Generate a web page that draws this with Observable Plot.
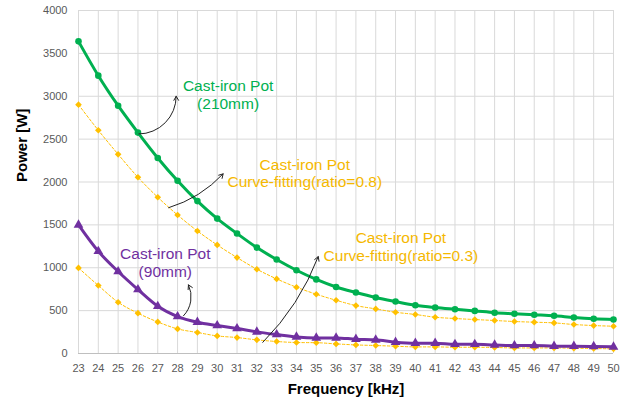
<!DOCTYPE html>
<html><head><meta charset="utf-8">
<script src="https://cdn.jsdelivr.net/npm/d3@7"></script>
<script src="https://cdn.jsdelivr.net/npm/@observablehq/plot@0.6"></script>
<style>
body{margin:0;background:#fff;}
#chart{width:629px;height:402px;}
</style>
</head><body><div id="chart"></div>
<script>
const freq = [23,24,25,26,27,28,29,30,31,32,33,34,35,36,37,38,39,40,41,42,43,44,45,46,47,48,49,50];
const pot210 = [3640,3240,2890,2576,2280,2014,1777,1573,1399,1235,1096,971,864,776,711,653,606,563,536,516,497,476,464,452,440,420,405,396];
const fit08 = [2902,2603,2323,2055,1822,1615,1429,1266,1119,983,870,773,691,621,559,520,481,455,423,408,396,385,373,365,357,338,326,318];
const pot90 = [1500,1192,956,746,551,431,365,326,291,252,221,193,182,182,167,159,132,120,120,108,108,100,93,93,85,85,82,77];
const fit03 = [998,793,598,470,368,287,245,205,186,159,140,128,126,112,100,93,85,77,77,73,73,70,65,65,65,62,58,54];
const yTicks = [0,500,1000,1500,2000,2500,3000,3500,4000];

const GREEN = "#00b050", PURPLE = "#7030a0", GOLD = "#ffc000", GOLDTXT = "#f5b800";

const rows = (ys) => freq.map((f, i) => ({f, v: ys[i]}));
const d210 = rows(pot210), d08 = rows(fit08), d90 = rows(pot90), d03 = rows(fit03);

// annotations (data units)
const labels = [
  {x: 30.55, y: 3020, text: "Cast-iron Pot\n(210mm)", color: GREEN},
  {x: 34.42, y: 2107, text: "Cast-iron Pot\nCurve-fitting(ratio=0.8)", color: GOLDTXT},
  {x: 27.38, y: 1064, text: "Cast-iron Pot\n(90mm)", color: PURPLE},
  {x: 39.27, y: 1250, text: "Cast-iron Pot\nCurve-fitting(ratio=0.3)", color: GOLDTXT}
];
const arrow210 = [{x1: 26.05, y1: 2560, x2: 27.93, y2: 3000}];
const arrow08 = [{x1: 27.55, y1: 1700, x2: 30.3, y2: 2095}];
const arrow90 = [{x1: 28.3, y1: 440, x2: 28.55, y2: 800}];
const arrow03 = [{x1: 32.3, y1: 130, x2: 35.1, y2: 1130}];

const font = "Liberation Sans, Arial, sans-serif";
const arrowOpts = (bend) => ({x1: "x1", y1: "y1", x2: "x2", y2: "y2", bend, stroke: "#222", strokeWidth: 1, headLength: 7});

const chart = Plot.plot({
  width: 629,
  height: 402,
  marginLeft: 78,
  marginRight: 16,
  marginTop: 10,
  marginBottom: 49,
  style: {fontFamily: font, background: "#fff"},
  x: {domain: [23, 50], ticks: freq, tickFormat: d => String(d), label: null},
  y: {domain: [0, 4000], ticks: yTicks, tickFormat: d => String(d), label: null},
  marks: [
    Plot.gridX(freq, {stroke: "#d9d9d9", strokeOpacity: 1, strokeWidth: 1}),
    Plot.gridY(yTicks, {stroke: "#d9d9d9", strokeOpacity: 1, strokeWidth: 1}),
    Plot.ruleY([0], {stroke: "#bfbfbf", strokeWidth: 1}),
    Plot.axisX(freq, {tickSize: 0, tickPadding: 11, fontSize: 11, fill: "#595959", label: null, tickFormat: d => String(d)}),
    Plot.axisY(yTicks, {tickSize: 0, tickPadding: 11, fontSize: 11, fill: "#595959", label: null, tickFormat: d => String(d)}),
    // curve-fitting (dashed, gold)
    Plot.line(d08, {x: "f", y: "v", stroke: GOLD, strokeWidth: 1, strokeDasharray: "2.5,2", curve: "monotone-x"}),
    Plot.line(d03, {x: "f", y: "v", stroke: GOLD, strokeWidth: 1, strokeDasharray: "2.5,2", curve: "monotone-x"}),
    // measured
    Plot.line(d210, {x: "f", y: "v", stroke: GREEN, strokeWidth: 3, curve: "monotone-x"}),
    Plot.line(d90, {x: "f", y: "v", stroke: PURPLE, strokeWidth: 3, curve: "monotone-x"}),
    Plot.dot(d08, {x: "f", y: "v", symbol: "diamond2", r: 3, fill: GOLD, stroke: "none"}),
    Plot.dot(d03, {x: "f", y: "v", symbol: "diamond2", r: 3, fill: GOLD, stroke: "none"}),
    Plot.dot(d210, {x: "f", y: "v", symbol: "circle", r: 3.3, fill: GREEN, stroke: "none"}),
    Plot.dot(d90, {x: "f", y: "v", symbol: "triangle", r: 3.6, fill: PURPLE, stroke: "none"}),
    // annotations
    Plot.arrow(arrow210, arrowOpts(-45)),
    Plot.arrow(arrow08, arrowOpts(-15)),
    Plot.arrow(arrow90, arrowOpts(-35)),
    Plot.arrow(arrow03, arrowOpts(-12)),
    Plot.text(labels, {x: "x", y: "y", text: "text", fill: "color", fontSize: 15.5, lineHeight: 1.15, textAnchor: "middle"}),
    // axis titles
    Plot.text(["Frequency [kHz]"], {frameAnchor: "bottom", dy: 40, fontSize: 15, fontWeight: "bold", fill: "#000"}),
    Plot.text(["Power [W]"], {frameAnchor: "left", dx: -56, rotate: -90, fontSize: 15, fontWeight: "bold", fill: "#000"})
  ]
});
document.getElementById("chart").appendChild(chart);
</script>
</body></html>
